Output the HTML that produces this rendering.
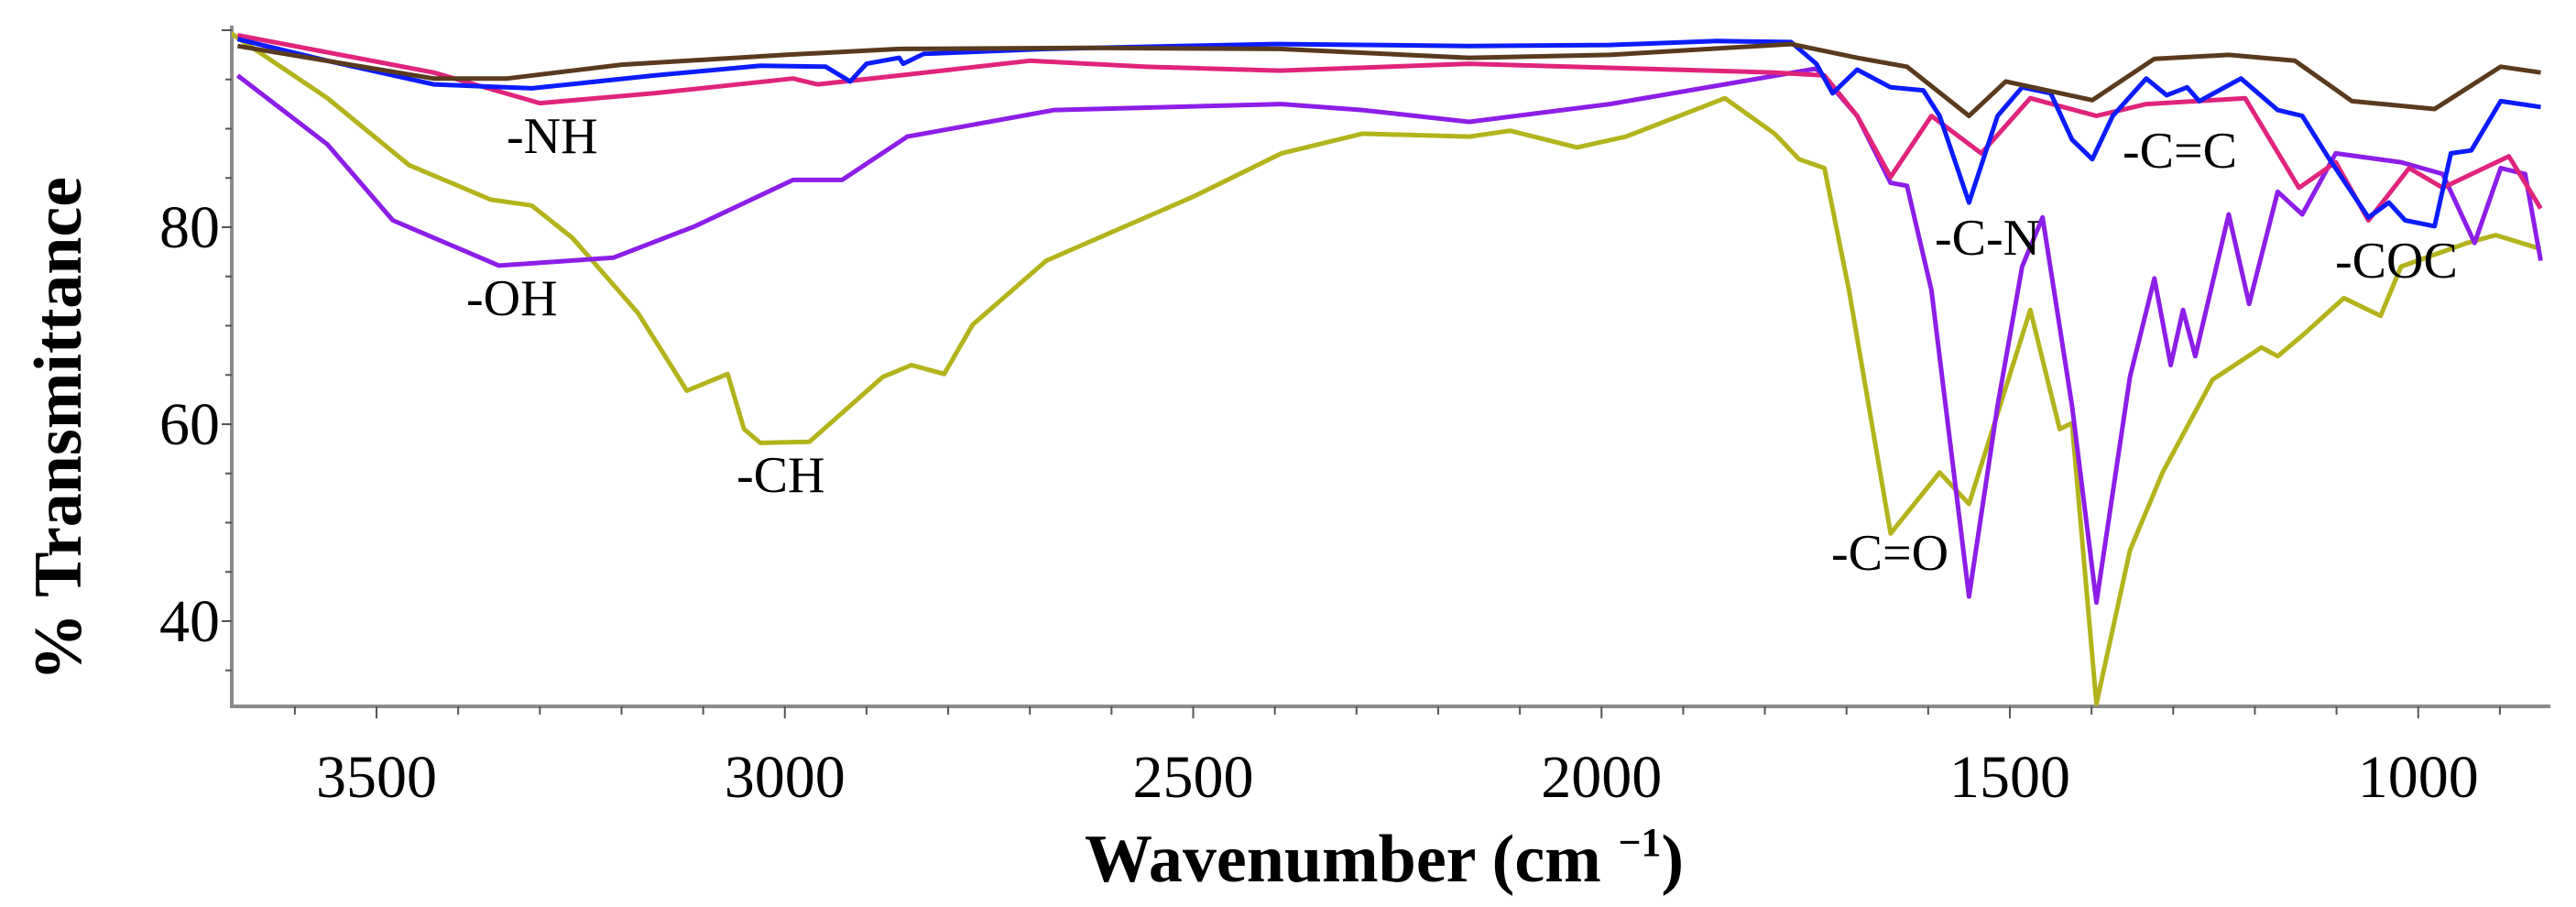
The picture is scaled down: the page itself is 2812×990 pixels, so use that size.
<!DOCTYPE html>
<html><head><meta charset="utf-8"><style>
html,body{margin:0;padding:0;background:#fff;}
svg{display:block;}
text{font-family:"Liberation Serif",serif;}
</style></head><body>
<svg id="chart" width="2812" height="990" viewBox="0 0 2812 990" xmlns="http://www.w3.org/2000/svg">
<defs><clipPath id="plotclip"><rect x="253" y="28" width="2530" height="744"/></clipPath></defs>
<g id="axes"></g>
<g id="series" clip-path="url(#plotclip)"></g>
<text x="0" y="0" transform="translate(88,468) rotate(-90)" text-anchor="middle" font-size="74" font-weight="bold">% Transmittance</text>
<text x="1511" y="962" text-anchor="middle" font-size="74" font-weight="bold">Wavenumber (cm <tspan font-size="44" dy="-28">−1</tspan><tspan dy="28">)</tspan></text>
<g font-size="56">
<text x="553" y="167">-NH</text>
<text x="509" y="344">-OH</text>
<text x="804" y="537">-CH</text>
<text x="1999" y="622">-C=O</text>
<text x="2112" y="278">-C-N</text>
<text x="2317" y="183">-C=C</text>
<text x="2549" y="303">-COC</text>
</g>
</svg>
<script>
const xTicks = [3500, 3000, 2500, 2000, 1500, 1000];
const yTicks = [40, 60, 80];
const brownW = [3670,3430,3340,3200,3000,2860,2630,2394,2162,1990,1768,1687,1626,1550,1505,1399,1323,1232,1151,1081,980,899,850];
const brownV = [98.4,95.1,95.1,96.5,97.5,98.1,98.2,98.1,97.2,97.5,98.6,97.2,96.3,91.3,94.8,92.9,97.1,97.5,96.9,92.8,92,96.3,95.7];
const blueW = [3670,3560,3430,3310,3160,3030,2950,2920,2900,2860,2855,2830,2680,2400,2162,1990,1859,1768,1737,1717,1687,1646,1606,1586,1550,1515,1485,1450,1424,1399,1374,1333,1308,1283,1268,1217,1172,1142,1111,1061,1036,1016,980,960,935,899,850];
const blueV = [99.1,96.9,94.5,94.1,95.4,96.4,96.3,94.8,96.6,97.2,96.6,97.6,98.1,98.6,98.4,98.5,98.9,98.8,96.6,93.6,96,94.2,93.9,91.3,82.5,91.3,94.2,93.6,88.9,86.9,91.3,95.1,93.4,94.2,92.8,95.1,91.9,91.3,87.2,81,82.5,80.7,80.1,87.5,87.8,92.8,92.2];
const pinkW = [3670,3430,3300,3160,2990,2960,2860,2700,2560,2394,2162,1788,1727,1687,1646,1596,1535,1475,1394,1333,1212,1146,1101,1061,1011,970,889,850];
const pinkV = [99.5,95.7,92.6,93.6,95.1,94.5,95.4,96.9,96.3,95.9,96.6,95.7,95.4,91.3,85.1,91.3,87.5,93.1,91.3,92.5,93.1,84,86.6,80.7,86,84,87.2,81.9];
const violetW = [3670,3560,3480,3350,3210,3110,2990,2930,2850,2670,2392,2293,2162,1990,1737,1687,1646,1626,1596,1550,1515,1485,1460,1424,1394,1353,1323,1303,1288,1273,1232,1207,1172,1142,1101,1021,970,931,899,869,850];
const violetV = [95.4,88.4,80.7,76.1,76.9,80.1,84.8,84.8,89.2,91.9,92.5,91.9,90.7,92.5,96.1,91.3,84.5,84.2,73.6,42.5,61.9,76,81,61.9,41.9,64.8,74.8,66,71.6,66.9,81.3,72.2,83.6,81.3,87.5,86.6,85.4,78.4,86,85.4,76.6];
const oliveW = [3680,3560,3460,3360,3310,3260,3180,3120,3070,3050,3030,2970,2880,2845,2805,2770,2680,2500,2392,2293,2162,2112,2030,1970,1849,1788,1758,1727,1697,1646,1586,1550,1475,1439,1424,1394,1353,1313,1252,1192,1172,1142,1091,1046,1021,940,905,850];
const oliveV = [99.8,93.1,86.3,82.8,82.2,78.9,71.3,63.4,65.1,59.5,58.1,58.2,64.8,66,65.1,70.1,76.6,83.1,87.5,89.5,89.2,89.8,88.1,89.2,93.1,89.5,86.9,86,73.6,48.9,55.1,51.9,71.6,59.5,60.1,31.6,47.2,55.1,64.5,67.8,66.9,69,72.8,71,76,78.4,79.2,77.8];

const NS = "http://www.w3.org/2000/svg";
function xs(w){ return 411 + (3500 - w) * 0.8915; }
function ys(v){ return 248 + (80 - v) * 10.75; }
const axes = document.getElementById('axes');
const series = document.getElementById('series');
function mk(tag, attrs, parent){ const e = document.createElementNS(NS, tag); for (const k in attrs) e.setAttribute(k, attrs[k]); parent.appendChild(e); return e; }

const yAxis = mk('line', {x1:253, y1:28, x2:253, y2:772, stroke:'#8a8a8a', 'stroke-width':4}, axes);


const xAxis = mk('line', {x1:251, y1:771, x2:2784, y2:771, stroke:'#8a8a8a', 'stroke-width':4}, axes);



for (let w = 3600; w >= 900; w -= 100) {
  const t = mk('line', {x1:xs(w), y1:771, x2:xs(w), y2:(w % 500 === 0 ? 784 : 780), stroke:'#555', 'stroke-width':2}, axes);
  
  
}
for (let v = 35; v <= 100; v += 5) {
  const t = mk('line', {x1:(v % 20 === 0 ? 242 : 246), y1:ys(v), x2:253, y2:ys(v), stroke:'#555', 'stroke-width':2}, axes);
  
  
}
xTicks.forEach(w => {
  const t = mk('text', {x:xs(w), y:870, 'text-anchor':'middle', 'font-size':66}, axes);
  t.textContent = String(w);
  
  
});
yTicks.forEach(v => {
  const t = mk('text', {x:240, y:ys(v) + 22, 'text-anchor':'end', 'font-size':66}, axes);
  t.textContent = String(v);
  
  
});

function drawLine(W, V, color, name){
  const pts = W.map((w, i) => xs(w).toFixed(1) + ',' + ys(V[i]).toFixed(1)).join(' ');
  const p = mk('polyline', {points:pts, fill:'none', stroke:color, 'stroke-width':5, 'stroke-linejoin':'round'}, series);
  
  
}
drawLine(oliveW, oliveV, '#b3b31c', 'series-olive');
drawLine(violetW, violetV, '#8c1ee8', 'series-violet');
drawLine(pinkW, pinkV, '#e0247c', 'series-pink');
drawLine(blueW, blueV, '#0c1cff', 'series-blue');
drawLine(brownW, brownV, '#5a3a1e', 'series-brown');
</script>
</body></html>
